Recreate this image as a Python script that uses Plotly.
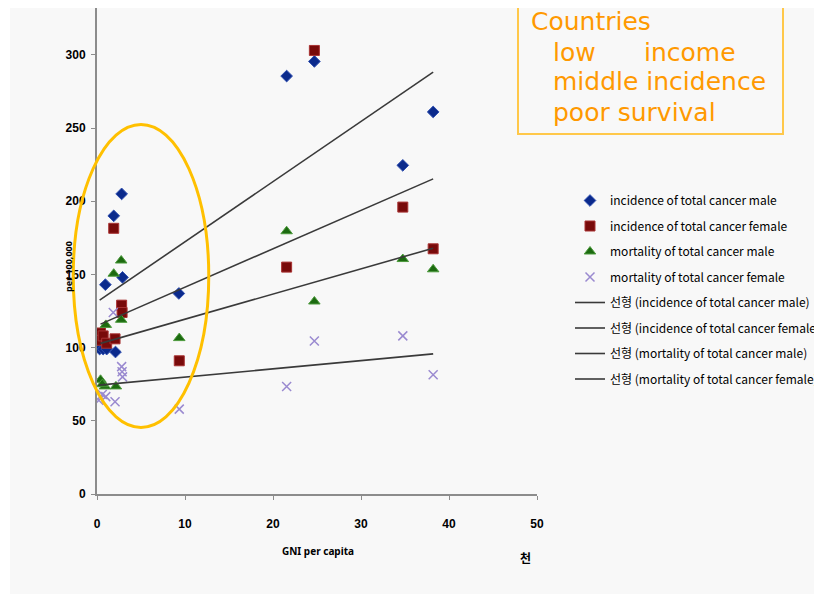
import plotly.graph_objects as go

# ---- data (GNI per capita in thousands, rates per 100,000) ----
inc_male_x = [0.3, 0.7, 1.1, 2.1, 0.95, 1.9, 2.8, 2.9, 9.3, 21.55, 24.7, 34.75, 38.2]
inc_male_y = [99, 99, 99, 97, 143, 190, 205, 148, 137, 285.5, 295.5, 224.5, 261]

inc_female_x = [0.4, 0.5, 0.7, 1.1, 2.05, 2.8, 2.85, 1.9, 9.35, 21.55, 24.7, 34.75, 38.2]
inc_female_y = [110, 105, 108, 103, 106, 129, 124, 181.5, 91, 155, 303, 196, 167.5]

mort_male_x = [0.4, 0.9, 2.15, 1.0, 2.75, 1.9, 2.75, 0.6, 9.35, 21.55, 24.7, 34.75, 38.2]
mort_male_y = [78, 73.5, 73.5, 115.5, 119, 150.5, 159.5, 75, 106.5, 179.5, 131.5, 160.5, 153.5]

mort_female_x = [0.2, 0.6, 1.0, 2.05, 1.85, 2.8, 2.85, 2.9, 9.35, 21.55, 24.7, 34.75, 38.2]
mort_female_y = [64, 68, 66.5, 63, 124, 87, 83.5, 80, 58, 73.5, 104.5, 108, 81.5]

series_names = ["incidence of total cancer male", "incidence of total cancer female",
                "mortality of total cancer male", "mortality of total cancer female"]

# linear trend lines (slope, intercept)
trend_slope = [4.11, 2.625, 1.72, 0.562]
trend_intercept = [131.2, 115.0, 102.2, 74.25]

x_ticks = [0, 10, 20, 30, 40, 50]
y_ticks = [0, 50, 100, 150, 200, 250, 300]

box_lines = ["Countries", "low", "income", "middle incidence", "poor survival"]

# ---- layout constants (figure pixels; page adds an 8px body margin) ----
OFF = 8
W, H = 822, 586
L, T = 89, 0
PLOT_RIGHT, PLOT_BOTTOM = 529, 486
R, B = W - PLOT_RIGHT, H - PLOT_BOTTOM
PW, PH = PLOT_RIGHT - L, PLOT_BOTTOM - T
XMAX, YMAX = 50, 332


def px(sx):  # screen pixel x -> paper
    return (sx - OFF - L) / PW


def py(sy):  # screen pixel y -> paper
    return (PLOT_BOTTOM - (sy - OFF)) / PH


fig = go.Figure()

marker_styles = [
    dict(symbol="diamond", size=9, color="#0b2a8c", line=dict(color="#2f4fb0", width=1)),
    dict(symbol="square", size=10, color="#780a0a", line=dict(color="#a83232", width=1)),
    dict(symbol="triangle-up", size=10, color="#1c6a10", line=dict(color="#4c9a3c", width=1)),
    dict(symbol="x-thin", size=9, color="#9a8ad0", line=dict(color="#9a8ad0", width=1.5)),
]
xs = [inc_male_x, inc_female_x, mort_male_x, mort_female_x]
ys = [inc_male_y, inc_female_y, mort_male_y, mort_female_y]

for i in range(4):
    fig.add_trace(go.Scatter(x=xs[i], y=ys[i], mode="markers", name=series_names[i],
                             marker=marker_styles[i], legendgroup=f"m{i}"))

for i in range(4):
    x0, x1 = min(xs[i]), max(xs[i])
    fig.add_trace(go.Scatter(
        x=[x0, x1],
        y=[trend_intercept[i] + trend_slope[i] * x0, trend_intercept[i] + trend_slope[i] * x1],
        mode="lines", name=f"선형 ({series_names[i]})",
        line=dict(color="#3a3a3a", width=1.6), legendgroup=f"t{i}"))

shapes = [
    # light grey page background (starts 2px in from the figure's left edge)
    dict(type="rect", xref="paper", yref="paper", x0=px(10), x1=px(OFF + W + 5), y0=py(OFF + H + 5), y1=py(OFF),
         fillcolor="#f8f8f8", line=dict(width=0), layer="below"),
    # ellipse around low income countries (data units converted to paper)
    dict(type="circle", xref="paper", yref="paper",
         x0=-2.7 / XMAX, x1=12.7 / XMAX, y0=45.5 / YMAX, y1=252.5 / YMAX,
         line=dict(color="#ffc000", width=3)),
    # text box
    dict(type="rect", xref="paper", yref="paper", x0=px(518), x1=px(783), y0=py(134), y1=py(2),
         line=dict(color="#ffc84a", width=2), fillcolor="rgba(0,0,0,0)"),
]

box_font = dict(family="DejaVu Sans", size=25, color="#ff9900")
box_pos = [(529, 22), (551, 53), (642, 53), (551, 82), (551, 112)]
annotations = []
for txt, (bx, by) in zip(box_lines, box_pos):
    annotations.append(dict(text=txt, xref="paper", yref="paper", x=px(bx), y=py(by),
                            xanchor="left", yanchor="middle", showarrow=False, font=box_font))

annotations += [
    dict(text="GNI per capita", xref="paper", yref="paper", x=px(318), y=py(551),
         xanchor="center", yanchor="middle", showarrow=False,
         font=dict(family="Noto Sans", size=10, color="black", weight="bold")),
    dict(text="per 100,000", xref="paper", yref="paper", x=px(68), y=py(267), textangle=-90,
         xanchor="center", yanchor="middle", showarrow=False,
         font=dict(family="Noto Sans", size=9, color="black", weight="bold")),
    dict(text="천", xref="paper", yref="paper", x=px(525), y=py(557),
         xanchor="center", yanchor="middle", showarrow=False,
         font=dict(family="Noto Sans CJK KR", size=12, color="black", weight="bold")),
]

axis_common = dict(showline=True, linecolor="#8c8c8c", linewidth=2, ticks="outside",
                   ticklen=4, tickcolor="#8c8c8c", showgrid=False, zeroline=False,
                   tickfont=dict(family="Liberation Sans", size=12, color="black", weight="bold"))

fig.update_layout(
    width=W, height=H,
    margin=dict(l=L, r=R, t=T, b=B, pad=0),
    paper_bgcolor="white", plot_bgcolor="rgba(0,0,0,0)",
    xaxis=dict(range=[0, XMAX], tickvals=x_ticks, ticklabelstandoff=14, **axis_common),
    yaxis=dict(range=[0, YMAX], tickvals=y_ticks, ticklabelstandoff=3, **axis_common),
    shapes=shapes, annotations=annotations,
    showlegend=True,
    legend=dict(x=px(570), y=py(186), xanchor="left", yanchor="top",
                bgcolor="rgba(0,0,0,0)", tracegroupgap=6.5,
                font=dict(family="Noto Sans CJK KR", size=12, color="black")),
)

fig.write_html("out.html")
